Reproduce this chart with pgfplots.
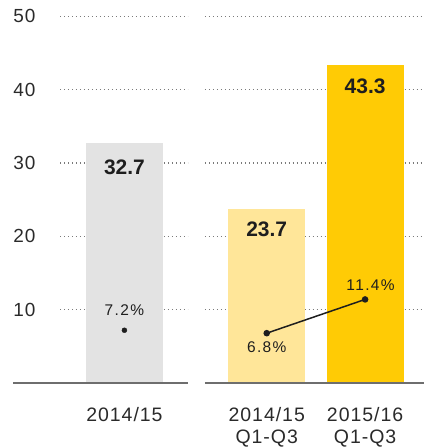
\documentclass[border=0pt]{standalone}
\usepackage{pgfplots}
\pgfplotsset{compat=1.18}
\usepackage{fontspec}
\setmainfont{Liberation Sans}
\newfontfamily\tickfont[LetterSpace=5]{Liberation Sans}
\newfontfamily\pctfont[LetterSpace=9]{Liberation Sans}
\definecolor{txt}{HTML}{2A2A2A}
\definecolor{dark}{HTML}{1E1E1E}
\definecolor{grid}{HTML}{7A7A7A}
\definecolor{base}{HTML}{6E6E6E}
\definecolor{barGray}{HTML}{E3E3E3}
\definecolor{barLight}{HTML}{FFE699}
\definecolor{barYellow}{HTML}{FFCB05}
\begin{document}
\begin{tikzpicture}
\begin{axis}[
  width=424pt, height=383.5pt, scale only axis,
  xmin=0, xmax=424, ymin=0, ymax=52.2,
  axis line style={draw=none},
  major tick length=0pt,
  clip=false,
  ytick={10,20,30,40,50},
  yticklabel style={anchor=west, xshift=13pt, inner sep=0pt,
    font=\tickfont\fontsize{19}{22}\selectfont, text=txt},
  xtick={124.5,267,365.5},
  xticklabels={2014/15, {2014/15\\Q1-Q3}, {2015/16\\Q1-Q3}},
  xticklabel style={align=center, anchor=north, inner sep=0pt, yshift=-24pt,
    font=\tickfont\fontsize{19.5}{22}\selectfont, text=txt},
  /pgf/number format/assume math mode=true,
]
% dotted grid lines
\pgfplotsinvokeforeach{10,20,30,40,50}{
  \draw[grid, line width=1.3pt, dash pattern=on 1.3pt off 2.7pt] (axis cs:60,#1) -- (axis cs:188,#1);
  \draw[grid, line width=1.3pt, dash pattern=on 1.3pt off 2.7pt] (axis cs:205,#1) -- (axis cs:424,#1);
}
% bars
\addplot[ybar, bar shift=0pt, bar width=77, fill=barGray, draw=none] coordinates {(124.5,32.7)};
\addplot[ybar, bar shift=0pt, bar width=77, fill=barLight, draw=none] coordinates {(267,23.7)};
\addplot[ybar, bar shift=0pt, bar width=77, fill=barYellow, draw=none] coordinates {(365.5,43.3)};
% baseline
\draw[base, line width=2pt] (axis cs:13,0) -- (axis cs:188,0);
\draw[base, line width=2pt] (axis cs:205,0) -- (axis cs:424,0);
% margin points
\addplot[only marks, mark=*, mark size=2.5pt, mark options={fill=dark, draw=dark}] coordinates {(124.5,7.2)};
\addplot[dark, line width=1.5pt, mark=*, mark size=2.5pt, mark options={fill=dark, draw=dark}] coordinates {(267,6.8) (365.5,11.4)};
% value labels
\node[inner sep=0pt, font=\bfseries\fontsize{21}{24}\selectfont, text=dark] at (axis cs:124.5,29.46) {32.7};
\node[inner sep=0pt, font=\bfseries\fontsize{21}{24}\selectfont, text=dark] at (axis cs:267,21.02) {23.7};
\node[inner sep=0pt, font=\bfseries\fontsize{21}{24}\selectfont, text=dark] at (axis cs:365.5,40.48) {43.3};
% percentage labels
\node[inner sep=0pt, font=\pctfont\fontsize{15.5}{18}\selectfont, text=dark] at (axis cs:124.5,10.0) {7.2\%};
\node[inner sep=0pt, font=\pctfont\fontsize{15.5}{18}\selectfont, text=dark] at (axis cs:267,4.83) {6.8\%};
\node[inner sep=0pt, font=\pctfont\fontsize{15.5}{18}\selectfont, text=dark] at (axis cs:371,13.4) {11.4\%};
\end{axis}
\end{tikzpicture}
\end{document}
